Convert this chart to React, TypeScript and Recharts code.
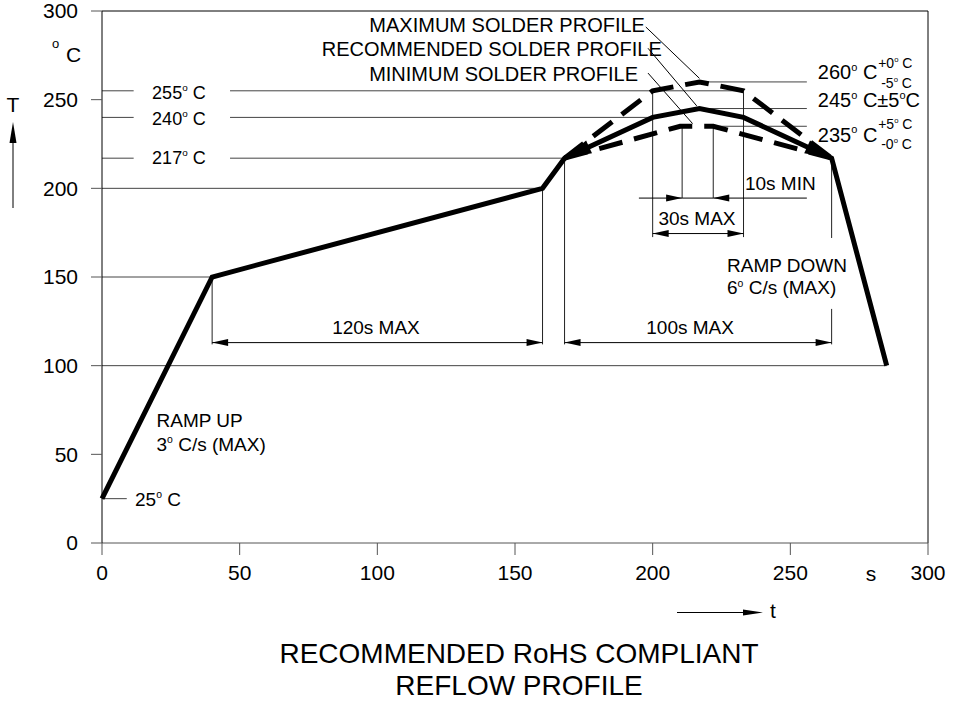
import React from "react";
import {
  ComposedChart,
  Line,
  XAxis,
  YAxis,
  ReferenceLine,
  ReferenceDot,
} from "recharts";

const FONT = '"Liberation Sans", Arial, Helvetica, sans-serif';

// reflow profiles: t = time (s), T = temperature (°C)
const recommended = [
  { t: 0, T: 25 },
  { t: 40, T: 150 },
  { t: 160, T: 200 },
  { t: 168, T: 217 },
  { t: 200, T: 240 },
  { t: 217, T: 245 },
  { t: 233, T: 240 },
  { t: 265, T: 217 },
  { t: 285, T: 100 },
];

const maxProfile = [
  { t: 168, T: 217 },
  { t: 200, T: 255 },
  { t: 217, T: 260 },
  { t: 233, T: 255 },
  { t: 265, T: 217 },
];

const minProfile = [
  { t: 168, T: 217 },
  { t: 210, T: 235 },
  { t: 222, T: 235 },
  { t: 265, T: 217 },
];

const xTicks = [0, 50, 100, 150, 200, 250, 300];
const yTicks = [0, 50, 100, 150, 200, 250, 300];

// thin horizontal guides: [T, from t, to t]
const guides = [
  [200, 0, 160],
  [150, 0, 40],
  [100, 0, 285],
  [25, 0, 9],
  [255, 0, 11.5],
  [255, 46.5, 233],
  [240, 0, 11.5],
  [240, 46.5, 200],
  [217, 0, 11.5],
  [217, 46.5, 168],
  [260, 217, 256],
  [245, 216, 256],
  [235, 222, 256],
];

// extension lines: [t, from T, to T]
const extensions = [
  [40, 150, 112],
  [160, 200, 112],
  [168, 217, 112],
  [265, 217, 172],
  [265, 132, 112],
  [200, 255, 172.5],
  [233, 255, 172.5],
  [210.7, 235, 194.5],
  [222, 235, 194.5],
];

// dimension lines
const dims = [
  { from: 40, to: 160, T: 113, heads: "both" },
  { from: 168, to: 265, T: 113, heads: "both" },
  { from: 200, to: 233, T: 174.5, heads: "both" },
  { from: 195, to: 210.7, T: 194.5, heads: "end" },
  { from: 256, to: 222, T: 194.5, heads: "end" },
  { from: 210.7, to: 222, T: 194.5, heads: "none" },
];

// leader lines from the profile captions
const leaders = [
  [197.5, 291, 217, 262],
  [198.3, 279, 216, 246.5],
  [198.3, 265, 214.5, 236.5],
];

// big arrowheads where the profiles meet 217°C
const profileArrows = [
  [200, 240, 168, 217],
  [233, 240, 265, 217],
];

const notes = [
  { t: 18.2, T: 254, text: "255° C", size: 18 },
  { t: 18.2, T: 239.5, text: "240° C", size: 18 },
  { t: 18.2, T: 217.5, text: "217° C", size: 18 },
  { t: 12, T: 24.5, text: "25° C", size: 19 },
  { t: 19.8, T: 69, text: "RAMP UP", size: 19 },
  { t: 19.8, T: 55.5, text: "3° C/s (MAX)", size: 19 },
  { t: 99.5, T: 121.5, text: "120s MAX", size: 19, anchor: "middle" },
  { t: 213.6, T: 121.5, text: "100s MAX", size: 19, anchor: "middle" },
  { t: 227, T: 156.4, text: "RAMP DOWN", size: 19 },
  { t: 227, T: 144, text: "6° C/s (MAX)", size: 19 },
  { t: 216.1, T: 183.3, text: "30s MAX", size: 19, anchor: "middle" },
  { t: 233.5, T: 202.8, text: "10s MIN", size: 19 },
  { t: 197.2, T: 292.5, text: "MAXIMUM SOLDER PROFILE", size: 20, anchor: "end" },
  { t: 203.3, T: 278.6, text: "RECOMMENDED SOLDER PROFILE", size: 20, anchor: "end" },
  { t: 194.7, T: 264.6, text: "MINIMUM SOLDER PROFILE", size: 20, anchor: "end" },
  { t: 260, T: 265.6, text: "260° C", size: 20 },
  { t: 281.9, T: 270.7, text: "+0° C", size: 14 },
  { t: 283, T: 259.7, text: "-5° C", size: 14 },
  { t: 260, T: 249.8, text: "245° C±5°C", size: 20 },
  { t: 260, T: 230.4, text: "235° C", size: 20 },
  { t: 281.9, T: 236.3, text: "+5° C", size: 14 },
  { t: 283, T: 225.3, text: "-0° C", size: 14 },
];

function Txt({ x, y, size, anchor = "start", text }: any) {
  const parts = text.split("°");
  const rise = size * 0.42;
  const kids: any[] = [];
  parts.forEach((p: string, i: number) => {
    if (i > 0) {
      kids.push(
        <tspan key={"d" + i} fontSize={size * 0.55} dy={-rise}>
          o
        </tspan>
      );
      kids.push(
        <tspan key={"p" + i} dy={rise}>
          {p}
        </tspan>
      );
    } else {
      kids.push(<tspan key={"p" + i}>{p}</tspan>);
    }
  });
  return (
    <text
      x={x}
      y={y + size * 0.36}
      fontSize={size}
      textAnchor={anchor}
      fontFamily={FONT}
      fill="#000"
      style={{ whiteSpace: "pre" }}
    >
      {kids}
    </text>
  );
}

function head(x1: number, y1: number, x2: number, y2: number, len: number, w: number) {
  const dx = x2 - x1;
  const dy = y2 - y1;
  const d = Math.hypot(dx, dy) || 1;
  const ux = dx / d;
  const uy = dy / d;
  const bx = x2 - ux * len;
  const by = y2 - uy * len;
  return `${x2},${y2} ${bx - uy * w},${by + ux * w} ${bx + uy * w},${by - ux * w}`;
}

const dimShape = (heads: string) => (p: any) => {
  const { x1, y1, x2, y2 } = p;
  return (
    <g>
      <line x1={x1} y1={y1} x2={x2} y2={y2} stroke="#000" strokeWidth={1} />
      {heads !== "none" && <polygon points={head(x1, y1, x2, y2, 16, 3.5)} fill="#000" />}
      {heads === "both" && <polygon points={head(x2, y2, x1, y1, 16, 3.5)} fill="#000" />}
    </g>
  );
};

const bigHead = (p: any) => (
  <polygon points={head(p.x1, p.y1, p.x2, p.y2, 27, 7)} fill="#000" />
);

export default function App() {
  return (
    <div
      style={{
        position: "absolute",
        left: 0,
        top: 0,
        width: 980,
        height: 720,
        background: "#fff",
        fontFamily: FONT,
      }}
    >
      <ComposedChart
        width={980}
        height={720}
        margin={{ top: 11, right: 52, left: 42, bottom: 137 }}
      >
        <XAxis
          type="number"
          dataKey="t"
          domain={[0, 300]}
          ticks={xTicks}
          interval={0}
          height={40}
          tickSize={12}
          tickMargin={10}
          axisLine={{ stroke: "#555" }}
          tickLine={{ stroke: "#555" }}
          tick={{ fill: "#000", fontSize: 21, fontFamily: FONT }}
        />
        <YAxis
          type="number"
          domain={[0, 300]}
          ticks={yTicks}
          interval={0}
          width={60}
          tickSize={11}
          tickMargin={13}
          axisLine={{ stroke: "#000" }}
          tickLine={{ stroke: "#555" }}
          tick={{ fill: "#000", fontSize: 21, fontFamily: FONT }}
        />
        <ReferenceLine y={300} stroke="#000" />
        <ReferenceLine x={300} stroke="#000" />
        {guides.map(([T, a, b], i) => (
          <ReferenceLine
            key={"g" + i}
            segment={[{ x: a, y: T }, { x: b, y: T }]}
            stroke="#444"
            strokeWidth={1}
          />
        ))}
        {extensions.map(([t, a, b], i) => (
          <ReferenceLine
            key={"e" + i}
            segment={[{ x: t, y: a }, { x: t, y: b }]}
            stroke="#222"
            strokeWidth={1}
          />
        ))}
        {dims.map((d, i) => (
          <ReferenceLine
            key={"d" + i}
            segment={[{ x: d.from, y: d.T }, { x: d.to, y: d.T }]}
            shape={dimShape(d.heads)}
          />
        ))}
        {leaders.map(([a, b, c, e], i) => (
          <ReferenceLine
            key={"l" + i}
            segment={[{ x: a, y: b }, { x: c, y: e }]}
            stroke="#000"
            strokeWidth={1}
          />
        ))}
        <Line
          data={maxProfile}
          dataKey="T"
          type="linear"
          stroke="#000"
          strokeWidth={5}
          strokeDasharray="24 12"
          dot={false}
          isAnimationActive={false}
        />
        <Line
          data={minProfile}
          dataKey="T"
          type="linear"
          stroke="#000"
          strokeWidth={5}
          strokeDasharray="24 12"
          dot={false}
          isAnimationActive={false}
        />
        <Line
          data={recommended}
          dataKey="T"
          type="linear"
          stroke="#000"
          strokeWidth={5}
          strokeLinejoin="miter"
          dot={false}
          isAnimationActive={false}
        />
        {profileArrows.map(([a, b, c, e], i) => (
          <ReferenceLine
            key={"a" + i}
            segment={[{ x: a, y: b }, { x: c, y: e }]}
            shape={bigHead}
          />
        ))}
        {notes.map((n, i) => (
          <ReferenceDot
            key={"n" + i}
            x={n.t}
            y={n.T}
            r={1}
            shape={(p: any) => (
              <Txt x={p.cx} y={p.cy} size={n.size} anchor={n.anchor} text={n.text} />
            )}
          />
        ))}
      </ComposedChart>
      <svg
        width={980}
        height={720}
        style={{ position: "absolute", left: 0, top: 0, pointerEvents: "none" }}
      >
        <text x={52} y={48} fontSize={13} fontFamily={FONT}>o</text>
        <text x={66} y={62} fontSize={21} fontFamily={FONT}>C</text>
        <text x={13} y={112} fontSize={21} fontFamily={FONT} textAnchor="middle">T</text>
        <line x1={13} y1={208} x2={13} y2={140} stroke="#000" />
        <polygon points="13,122 9.5,143 16.5,143" fill="#000" />
        <text x={871} y={581} fontSize={21} fontFamily={FONT} textAnchor="middle">s</text>
        <line x1={677} y1={612.5} x2={745} y2={612.5} stroke="#000" />
        <polygon points="763,612.5 743,609.5 743,615.5" fill="#000" />
        <text x={770} y={618} fontSize={21} fontFamily={FONT}>t</text>
        <text x={519} y={663} fontSize={28} fontFamily={FONT} textAnchor="middle">
          RECOMMENDED RoHS COMPLIANT
        </text>
        <text x={519} y={695} fontSize={28} fontFamily={FONT} textAnchor="middle">
          REFLOW PROFILE
        </text>
      </svg>
    </div>
  );
}
